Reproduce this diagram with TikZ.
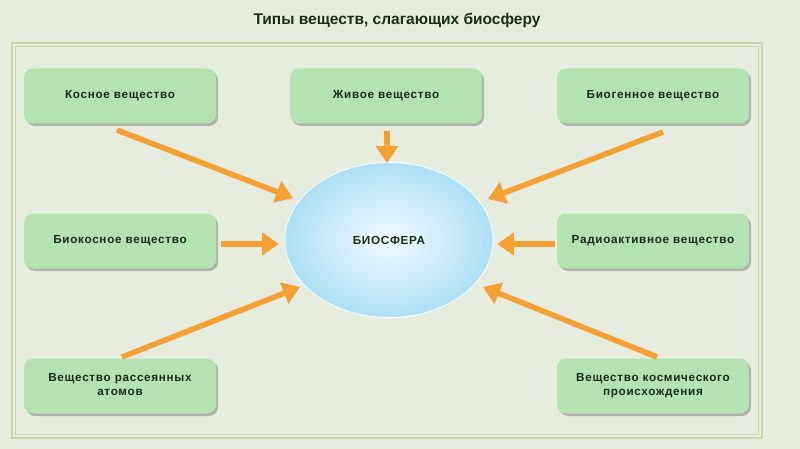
\documentclass[tikz,border=0pt]{standalone}
\usepackage{fontspec}
\setmainfont{Liberation Sans}
\usetikzlibrary{arrows.meta,shapes.geometric,shadows,calc}
\definecolor{bg}{HTML}{E6EDDF}
\definecolor{framec}{HTML}{C6D7AE}
\definecolor{boxfill}{HTML}{B4E3B2}
\definecolor{txt}{HTML}{1A2C1A}
\definecolor{orng}{HTML}{F5A033}
\definecolor{ellin}{HTML}{F2FBFF}
\definecolor{ellout}{HTML}{ACDFF6}
\begin{document}
\begin{tikzpicture}[x=1pt,y=-1pt,
  box/.style={rounded corners=9pt, fill=boxfill, minimum width=192pt, minimum height=55pt,
    align=center, text=txt, font=\bfseries\fontsize{11.7}{14}\selectfont\addfontfeatures{LetterSpace=6},
    text depth=3pt,
    drop shadow={shadow xshift=2pt, shadow yshift=-2.5pt, opacity=.35, fill=black!70}},
  arr/.style={draw=orng, line width=5.5pt, -{Triangle[length=17pt,width=22pt]}},
  framest/.style={draw=framec},
  titlest/.style={font=\bfseries\fontsize{15.5}{18}\selectfont, text=txt}]
\fill[bg] (0,0) rectangle (800,449);
\useasboundingbox (0,0) rectangle (800,449);
\draw[framest, line width=1.3pt] (12,43) rectangle (762,438);
\draw[framest, line width=0.8pt] (15.5,46.5) rectangle (758.5,434.5);
\node[titlest] (title) at (397,20) {Типы веществ, слагающих биосферу};

\node[box] (kos)  at (120,96)  {Косное вещество};
\node[box] (ziv)  at (386,96)  {Живое вещество};
\node[box] (biog) at (653,96)  {Биогенное вещество};
\node[box] (biok) at (120,241) {Биокосное вещество};
\node[box] (rad)  at (653,241) {Радиоактивное вещество};
\node[box] (ras)  at (120,386) {Вещество рассеянных\\атомов};
\node[box] (kosm) at (653,386) {Вещество космического\\происхождения};

\node[ellipse, minimum width=208pt, minimum height=155pt, inner sep=0pt,
  shading=radial, inner color=ellin, outer color=ellout, draw=white, line width=0.8pt,
  font=\bfseries\fontsize{11.7}{13}\selectfont\addfontfeatures{LetterSpace=6}, text=txt]
  (bio) at (389,240) {БИОСФЕРА};

\draw[arr] ($(kos.center)+(-3,34)$) -- ($(bio.center)+(-96,-42)$);
\draw[arr] ($(ziv.center)+(1,35)$) -- ($(bio.center)+(-2,-77)$);
\draw[arr] ($(biog.center)+(10,36)$) -- ($(bio.center)+(99,-41)$);
\draw[arr] ($(biok.center)+(101,3)$) -- ($(bio.center)+(-110,4)$);
\draw[arr] ($(rad.center)+(-98,3)$) -- ($(bio.center)+(108,4)$);
\draw[arr] ($(ras.center)+(2,-29)$) -- ($(bio.center)+(-89,47)$);
\draw[arr] ($(kosm.center)+(4,-29)$) -- ($(bio.center)+(94,47)$);
\end{tikzpicture}
\end{document}
